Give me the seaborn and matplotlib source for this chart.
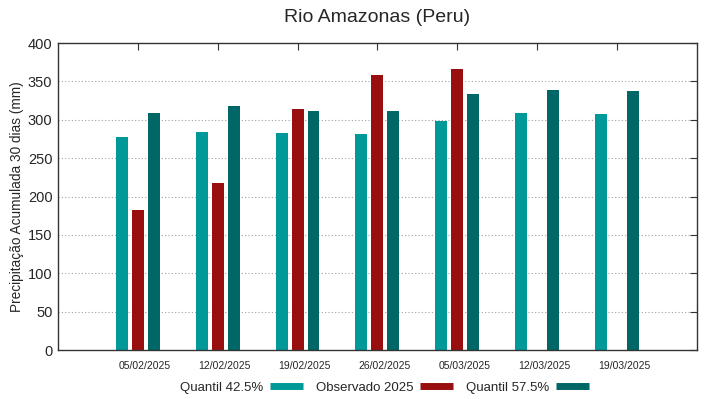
import numpy as np
import pandas as pd
import matplotlib
matplotlib.use('Agg')
import matplotlib.pyplot as plt
import matplotlib.transforms as mtransforms
from matplotlib.lines import Line2D
import seaborn as sns

datas = ['05/02/2025', '12/02/2025', '19/02/2025', '26/02/2025',
         '05/03/2025', '12/03/2025', '19/03/2025']
quantil_425 = [278, 284, 283, 281, 299, 309, 307]
observado_2025 = [182, 218, 314, 358, 366, np.nan, np.nan]
quantil_575 = [309, 318, 311, 312, 333, 339, 338]
series = ['Quantil 42.5%', 'Observado 2025', 'Quantil 57.5%']
cores = ['#009999', '#990f0f', '#006666']

df = pd.DataFrame({
    'Data': datas * 3,
    'Serie': [series[0]] * 7 + [series[1]] * 7 + [series[2]] * 7,
    'Valor': quantil_425 + observado_2025 + quantil_575,
})

sns.set_style('white')
plt.rcParams['font.family'] = ['Liberation Sans', 'DejaVu Sans']

fig, ax = plt.subplots(figsize=(7.19, 3.99), dpi=100)
fig.subplots_adjust(left=0.0807, right=0.969, top=0.892, bottom=0.1228)

sns.barplot(data=df, x='Data', y='Valor', hue='Serie', hue_order=series,
            palette=cores, width=0.6, gap=0.25, saturation=1, ax=ax,
            legend=False, edgecolor='none')

ax.set_xlim(-1, 7)
ax.set_ylim(0, 400)
ax.set_yticks(range(0, 401, 50))
ax.set_xlabel('')
ax.set_ylabel('Precipitação Acumulada 30 dias (mm)', fontsize=9.8, labelpad=3)
ax.set_title('Rio Amazonas (Peru)', fontsize=14, pad=15)

for y in range(50, 400, 50):
    ax.axhline(y, color='#a0a0a0', linestyle=(0, (1, 2)), linewidth=0.8, zorder=0)

ax.tick_params(axis='both', direction='in', length=5, width=0.8,
               top=True, right=True, color='#333333')
ax.tick_params(axis='y', labelsize=10.5, pad=4)
ax.tick_params(axis='x', labelsize=7.5, pad=8)
offset = mtransforms.ScaledTranslation(7 / 100, 0, fig.dpi_scale_trans)
for lbl in ax.get_xticklabels():
    lbl.set_transform(lbl.get_transform() + offset)

for s in ax.spines.values():
    s.set_color('#333333')
    s.set_linewidth(1)

handles = [Line2D([0], [0], color=c, linewidth=5, solid_capstyle='butt') for c in cores]
fig.legend(handles, series, loc='center', bbox_to_anchor=(0.535, 0.028),
           ncol=3, frameon=False, markerfirst=False, fontsize=9.5,
           handlelength=2.5, columnspacing=1.0, handletextpad=0.5)

fig.savefig('out.png', dpi=100)
